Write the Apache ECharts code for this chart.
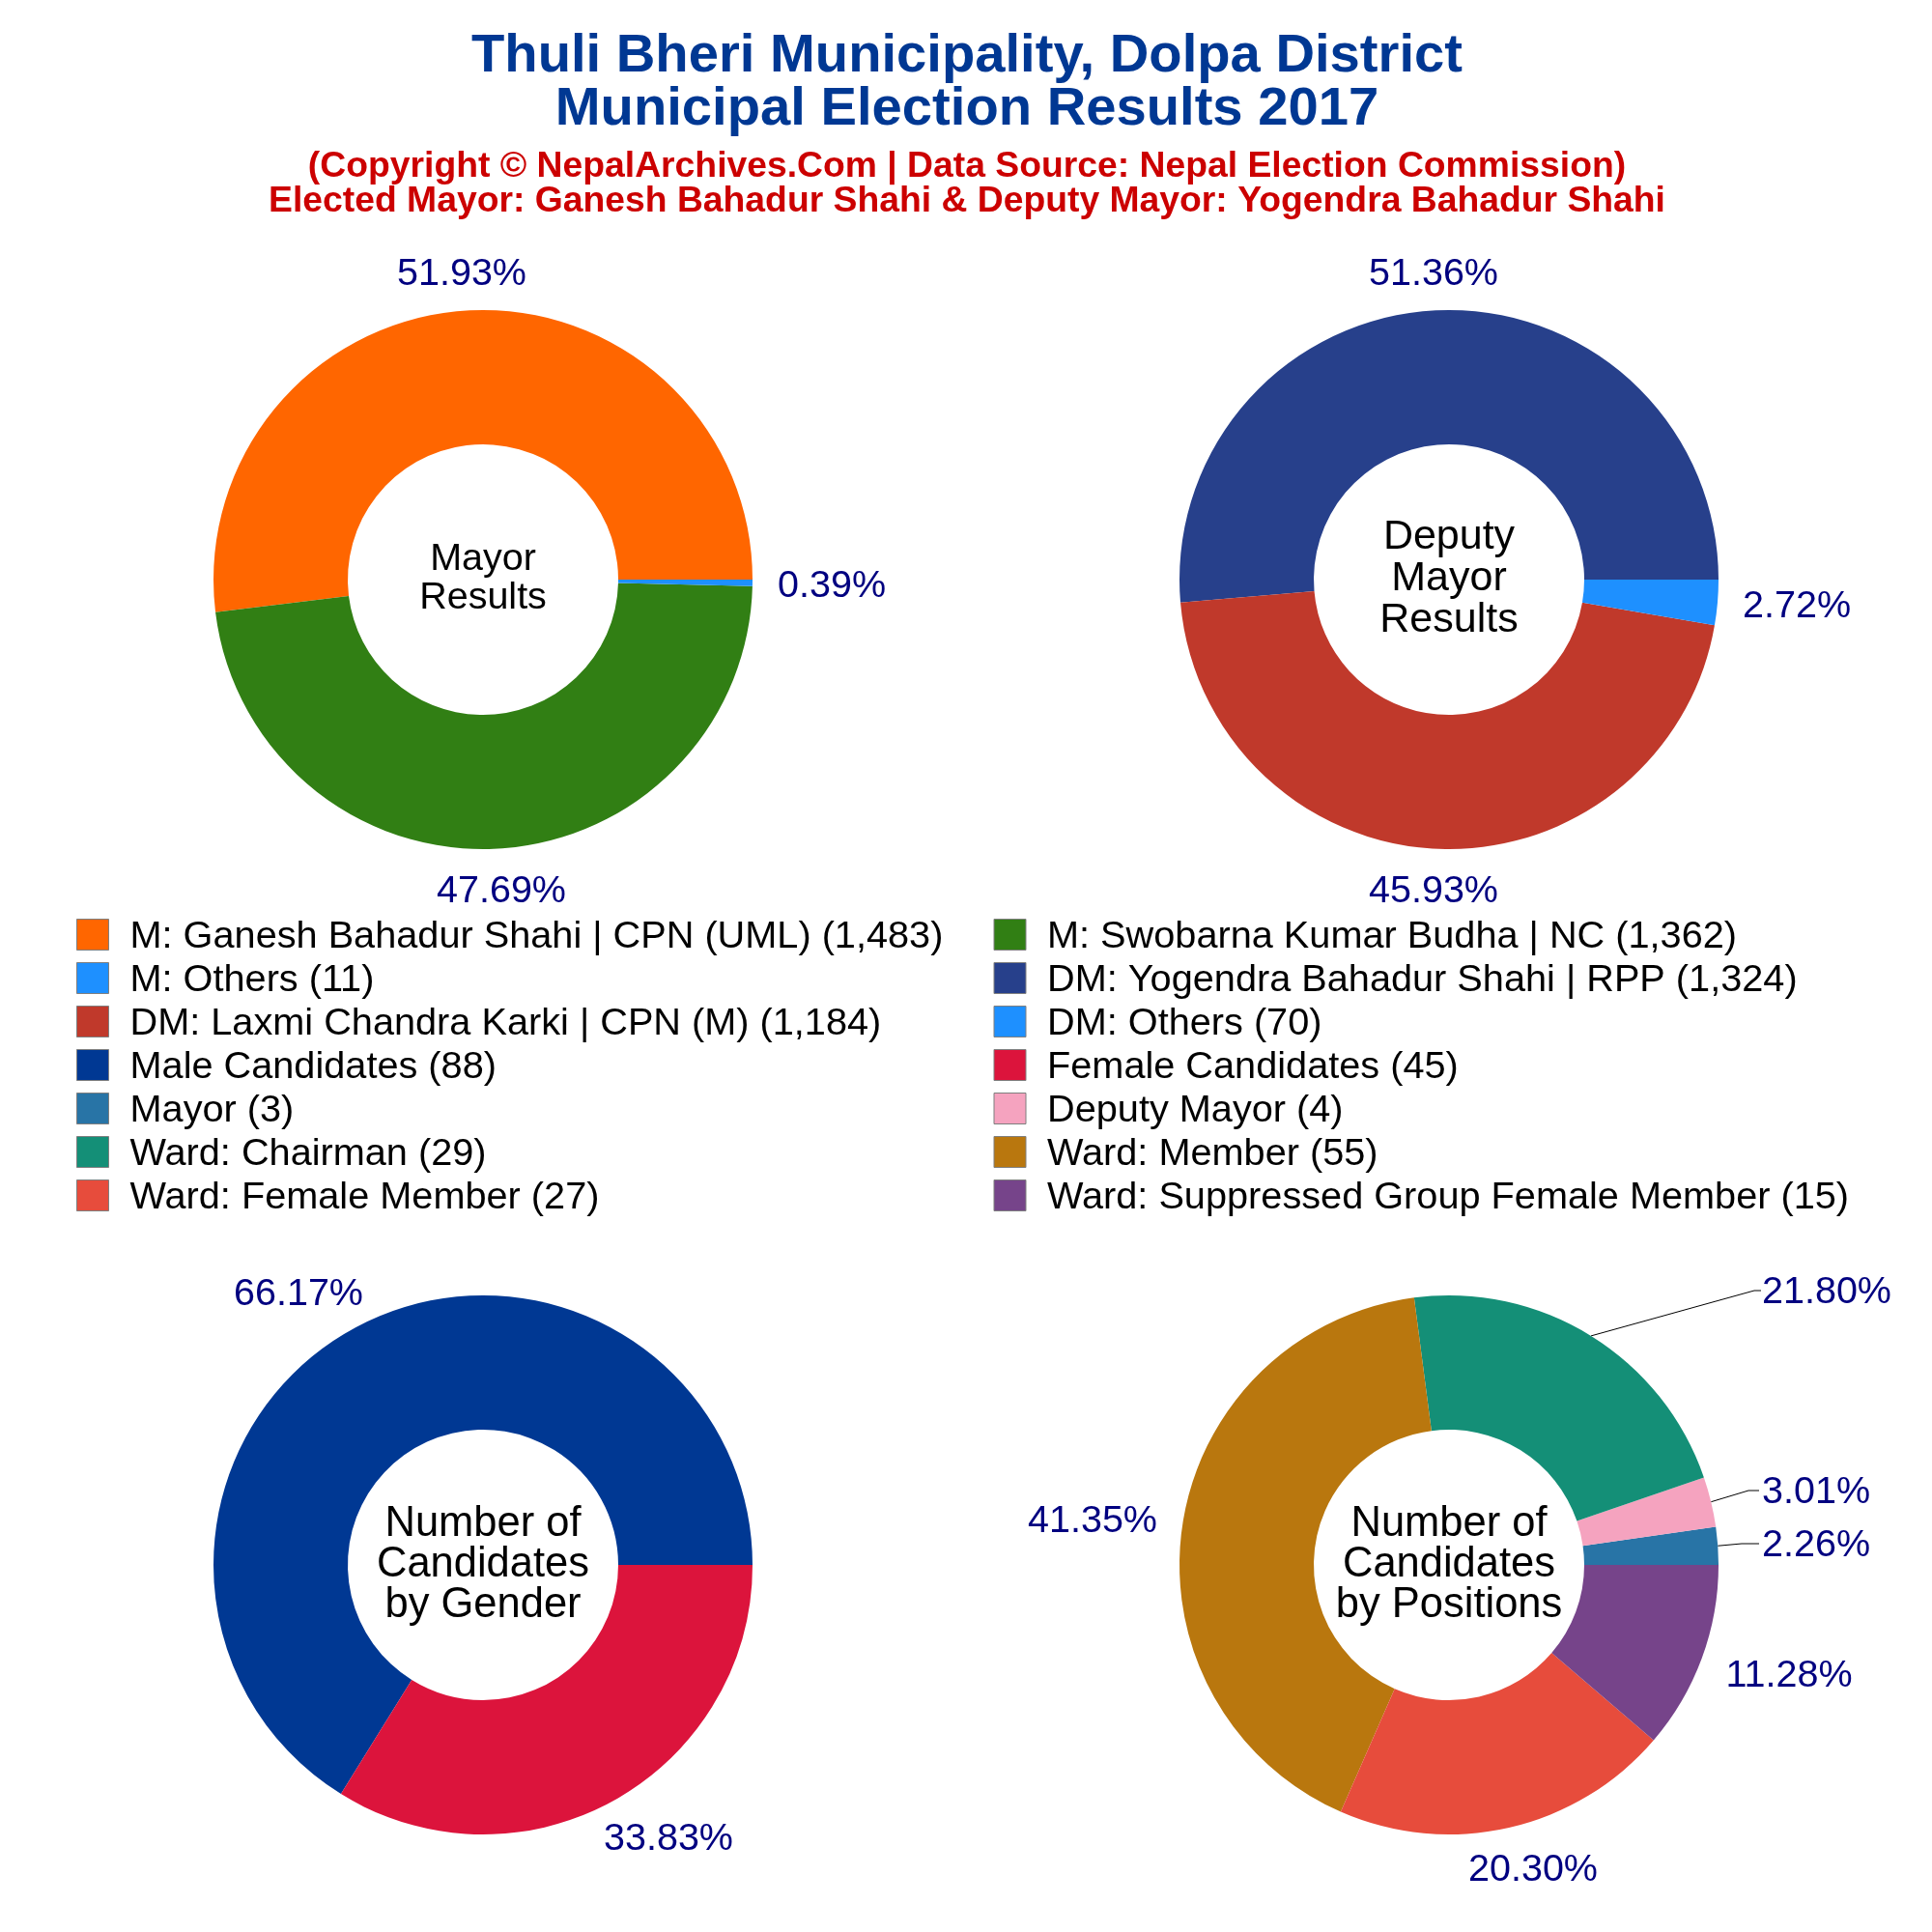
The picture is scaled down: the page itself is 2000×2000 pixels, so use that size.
<!DOCTYPE html>
<html>
<head>
<meta charset="utf-8">
<style>html,body{margin:0;padding:0;background:#fff}#c{width:2000px;height:2000px}</style>
<script src="https://cdn.jsdelivr.net/npm/echarts@6/dist/echarts.min.js"></script>
</head>
<body>
<div id="c"></div>
<script>
const titleLines = ['Thuli Bheri Municipality, Dolpa District', 'Municipal Election Results 2017'];
const subLines = ['(Copyright © NepalArchives.Com | Data Source: Nepal Election Commission)',
  'Elected Mayor: Ganesh Bahadur Shahi & Deputy Mayor: Yogendra Bahadur Shahi'];

const mayorNames = ['M: Ganesh Bahadur Shahi | CPN (UML)', 'M: Swobarna Kumar Budha | NC', 'M: Others'];
const mayorValues = [1483, 1362, 11];
const mayorColors = ['#FF6600', '#317F14', '#1E90FF'];

const deputyNames = ['DM: Yogendra Bahadur Shahi | RPP', 'DM: Laxmi Chandra Karki | CPN (M)', 'DM: Others'];
const deputyValues = [1324, 1184, 70];
const deputyColors = ['#27408B', '#C0392B', '#1E90FF'];

const genderNames = ['Male Candidates', 'Female Candidates'];
const genderValues = [88, 45];
const genderColors = ['#003893', '#DC143C'];

const positionNames = ['Mayor', 'Deputy Mayor', 'Ward: Chairman', 'Ward: Member', 'Ward: Female Member', 'Ward: Suppressed Group Female Member'];
const positionValues = [3, 4, 29, 55, 27, 15];
const positionColors = ['#2874A6', '#F5A3BF', '#148F77', '#B9770E', '#E74C3C', '#76448A'];

const legendLeftIdx = [['m',0],['m',2],['d',1],['g',0],['p',0],['p',2],['p',4]];
const legendRightIdx = [['m',1],['d',0],['d',2],['g',1],['p',1],['p',3],['p',5]];

const sets = {
  m: {names: mayorNames, values: mayorValues},
  d: {names: deputyNames, values: deputyValues},
  g: {names: genderNames, values: genderValues},
  p: {names: positionNames, values: positionValues}
};
const fmt = n => n.toLocaleString('en-US');
const display = (name, v) => name + ' (' + fmt(v) + ')';
const legendData = list => list.map(([k, i]) => display(sets[k].names[i], sets[k].values[i]));

// layout only
const FONT = '"Liberation Sans", Arial, sans-serif';
const R_OUT = 279, R_IN = 140;
const labelPos = {
  m: [[478, 284], [519, 923], [861, 607]],
  d: [[1484, 284], [1484, 923], [1860, 628]],
  g: [[309, 1340], [692, 1904]],
  p: [[1880, 1600], [1880, 1545], [1891, 1338], [1131, 1575.5], [1587, 1936], [1852, 1735]]
};
const linePos = {
  p: {0: [[1803, 1598], [1821, 1598]], 1: [[1810, 1543], [1821, 1543]], 2: [[1816, 1336], [1823, 1336]]}
};

function pie(key, names, values, colors, center) {
  const total = values.reduce((a, b) => a + b, 0);
  return {
    type: 'pie',
    center: center,
    radius: [R_IN, R_OUT],
    startAngle: 0,
    clockwise: false,
    silent: true,
    animation: false,
    avoidLabelOverlap: false,
    minAngle: 0,
    itemStyle: {borderWidth: 0},
    label: {
      show: true, position: 'outside',
      formatter: p => (p.value / total * 100).toFixed(2) + '%',
      fontFamily: FONT, fontSize: 39.5, color: '#000080'
    },
    labelLine: {show: true, length: 12, length2: 8, lineStyle: {color: '#000', width: 1}},
    labelLayout: function (p) {
      const pos = labelPos[key][p.dataIndex];
      const res = {x: pos[0], y: pos[1], align: 'center', verticalAlign: 'middle'};
      const extra = linePos[key] && linePos[key][p.dataIndex];
      if (extra && p.labelLinePoints) {
        res.labelLinePoints = [p.labelLinePoints[0], extra[0], extra[1]];
      }
      return res;
    },
    data: names.map((n, i) => ({
      name: display(n, values[i]), value: values[i],
      itemStyle: {color: colors[i]},
      labelLine: {show: !!(linePos[key] && linePos[key][i])}
    }))
  };
}

function centerText(text, x, y, size, lh) {
  return {
    text: text, left: x, top: y, textAlign: 'center', textVerticalAlign: 'middle', padding: 0,
    textStyle: {fontFamily: FONT, fontSize: size, fontWeight: 'normal', color: '#000', lineHeight: lh}
  };
}

function legend(data, left) {
  return {
    data: data, orient: 'vertical', left: left, top: 945, padding: 0,
    itemWidth: 33, itemHeight: 32, itemGap: 0, selectedMode: false,
    icon: 'rect',
    itemStyle: {borderColor: '#7f7f7f', borderWidth: 1},
    formatter: name => '{t|' + name + '}',
    textStyle: {
      fontFamily: FONT, fontSize: 39.7, color: '#000', lineHeight: 40, padding: [5, 0, 0, 17],
      rich: {t: {fontFamily: FONT, fontSize: 39.7, color: '#000', lineHeight: 40}}
    }
  };
}

const option = {
  backgroundColor: '#fff',
  animation: false,
  title: [
    {text: titleLines.join('\n'), left: 1001, top: 31.5, textAlign: 'center', padding: 0,
      textStyle: {fontFamily: FONT, fontSize: 56.2, fontWeight: 'bold', color: '#003893', lineHeight: 55}},
    {text: subLines.join('\n'), left: 1001, top: 155, textAlign: 'center', padding: 0,
      textStyle: {fontFamily: FONT, fontSize: 37.3, fontWeight: 'bold', color: '#CC0000', lineHeight: 35.5}},
    centerText('Mayor\nResults', 500, 599, 39.5, 40),
    centerText('Deputy\nMayor\nResults', 1500, 599, 43, 43),
    centerText('Number of\nCandidates\nby Gender', 500, 1620, 43.5, 42),
    centerText('Number of\nCandidates\nby Positions', 1500, 1620, 43.5, 42)
  ],
  legend: [legend(legendData(legendLeftIdx), 79), legend(legendData(legendRightIdx), 1028.5)],
  series: [
    pie('m', mayorNames, mayorValues, mayorColors, [500, 600]),
    pie('d', deputyNames, deputyValues, deputyColors, [1500, 600]),
    pie('g', genderNames, genderValues, genderColors, [500, 1620]),
    pie('p', positionNames, positionValues, positionColors, [1500, 1620])
  ]
};
const chart = echarts.init(document.getElementById('c'), null, {width: 2000, height: 2000, renderer: 'canvas'});
chart.setOption(option);
</script>
</body>
</html>
